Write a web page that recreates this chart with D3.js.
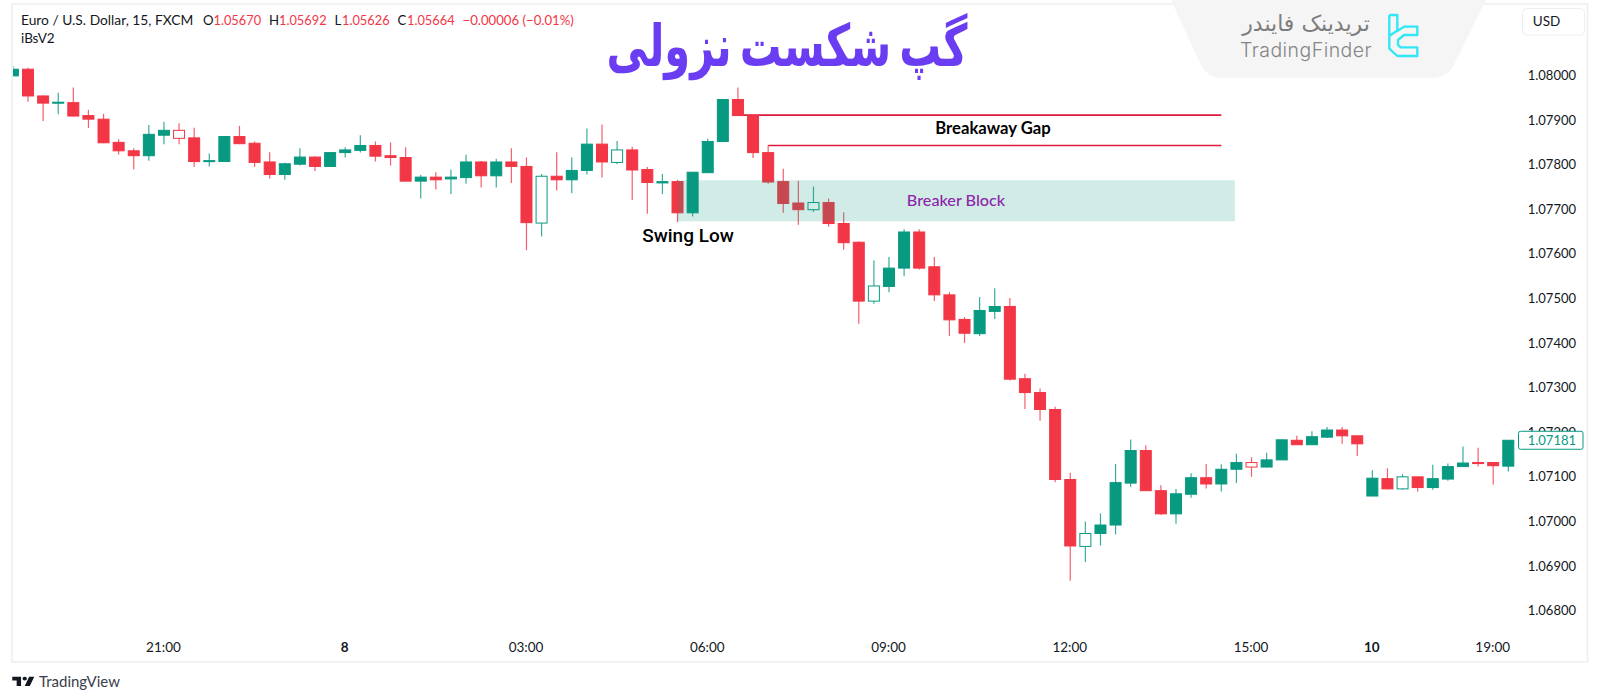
<!DOCTYPE html>
<html><head><meta charset="utf-8">
<script src="https://cdn.jsdelivr.net/npm/d3@7/dist/d3.min.js"></script>
<style>html,body{margin:0;padding:0;background:#fff}svg{display:block}
text{font-family:Lato,"Open Sans",sans-serif}</style></head><body>
<svg id="c" width="1600" height="700"></svg>
<script>
const opens=[1.07998,1.08013,1.07953,1.07937,1.07938,1.07909,1.07901,1.07849,1.07830,1.07819,1.07865,1.07876,1.07859,1.07806,1.07806,1.07862,1.07847,1.07805,1.07777,1.07800,1.07816,1.07795,1.07826,1.07831,1.07842,1.07819,1.07815,1.07762,1.07771,1.07767,1.07770,1.07805,1.07774,1.07805,1.07795,1.07668,1.07773,1.07765,1.07786,1.07845,1.07804,1.07832,1.07788,1.07758,1.07761,1.07691,1.07781,1.07851,1.07945,1.07909,1.07826,1.07761,1.07713,1.07698,1.07714,1.07667,1.07625,1.07493,1.07526,1.07567,1.07648,1.07570,1.07507,1.07452,1.07420,1.07470,1.07481,1.07319,1.07288,1.07250,1.07093,1.06943,1.06972,1.06991,1.07085,1.07158,1.07068,1.07016,1.07060,1.07097,1.07083,1.07116,1.07131,1.07121,1.07137,1.07181,1.07171,1.07188,1.07204,1.07191,1.07056,1.07095,1.07072,1.07099,1.07075,1.07094,1.07122,1.07131,1.07131,1.07123];
const highs=[1.08020,1.08016,1.07954,1.07960,1.07972,1.07922,1.07913,1.07856,1.07836,1.07888,1.07895,1.07892,1.07882,1.07824,1.07862,1.07886,1.07851,1.07827,1.07803,1.07836,1.07818,1.07826,1.07838,1.07865,1.07851,1.07849,1.07838,1.07776,1.07782,1.07788,1.07821,1.07807,1.07812,1.07836,1.07815,1.07778,1.07827,1.07815,1.07880,1.07889,1.07852,1.07839,1.07794,1.07778,1.07765,1.07782,1.07857,1.07945,1.07972,1.07909,1.07842,1.07790,1.07763,1.07750,1.07723,1.07692,1.07627,1.07584,1.07592,1.07654,1.07654,1.07592,1.07513,1.07457,1.07502,1.07522,1.07500,1.07330,1.07297,1.07256,1.07108,1.06999,1.07017,1.07128,1.07183,1.07170,1.07080,1.07072,1.07107,1.07128,1.07127,1.07151,1.07143,1.07153,1.07183,1.07191,1.07201,1.07211,1.07211,1.07191,1.07114,1.07118,1.07105,1.07099,1.07126,1.07129,1.07167,1.07164,1.07131,1.07181];
const lows=[1.07998,1.07940,1.07897,1.07912,1.07907,1.07881,1.07847,1.07822,1.07788,1.07808,1.07845,1.07845,1.07794,1.07795,1.07806,1.07845,1.07794,1.07768,1.07765,1.07797,1.07785,1.07795,1.07815,1.07826,1.07806,1.07797,1.07762,1.07723,1.07743,1.07733,1.07756,1.07748,1.07748,1.07758,1.07607,1.07638,1.07741,1.07735,1.07777,1.07770,1.07800,1.07720,1.07689,1.07733,1.07670,1.07683,1.07781,1.07851,1.07909,1.07814,1.07756,1.07691,1.07664,1.07693,1.07660,1.07608,1.07442,1.07487,1.07513,1.07549,1.07564,1.07493,1.07415,1.07399,1.07415,1.07453,1.07315,1.07251,1.07225,1.07087,1.06866,1.06908,1.06945,1.06970,1.07076,1.07068,1.07014,1.06994,1.07052,1.07073,1.07066,1.07085,1.07099,1.07120,1.07137,1.07171,1.07171,1.07186,1.07173,1.07146,1.07056,1.07071,1.07070,1.07066,1.07070,1.07090,1.07122,1.07122,1.07081,1.07111];
const closes=[1.08013,1.07953,1.07937,1.07939,1.07908,1.07901,1.07848,1.07830,1.07819,1.07867,1.07876,1.07858,1.07806,1.07808,1.07862,1.07846,1.07804,1.07777,1.07801,1.07816,1.07795,1.07826,1.07832,1.07842,1.07818,1.07815,1.07762,1.07771,1.07765,1.07771,1.07805,1.07774,1.07805,1.07795,1.07669,1.07773,1.07765,1.07786,1.07845,1.07805,1.07832,1.07787,1.07759,1.07761,1.07691,1.07782,1.07851,1.07945,1.07909,1.07826,1.07760,1.07712,1.07698,1.07714,1.07667,1.07624,1.07493,1.07527,1.07567,1.07648,1.07567,1.07507,1.07451,1.07421,1.07472,1.07481,1.07318,1.07288,1.07250,1.07093,1.06944,1.06972,1.06991,1.07086,1.07158,1.07068,1.07016,1.07061,1.07097,1.07083,1.07116,1.07131,1.07121,1.07137,1.07182,1.07171,1.07189,1.07204,1.07191,1.07173,1.07096,1.07072,1.07099,1.07075,1.07095,1.07122,1.07130,1.07129,1.07124,1.07181];
const hollowCandles=[12,36,41,54,58,72,83,93];
const priceTicks=[1.080,1.079,1.078,1.077,1.076,1.075,1.074,1.073,1.072,1.071,1.070,1.069,1.068];
const timeTickCandles=[11,23,35,47,59,71,83,91,99];
const timeTickLabels=["21:00","8","03:00","06:00","09:00","12:00","15:00","10","19:00"];
const boldTimeTicks=["8","10"];
const gapLevels=[{price:1.07910,from:49,to:81},{price:1.07842,from:51,to:81}];
const breaker={top:1.07764,bottom:1.07672,from:45,to:81.9};
const lastPrice=1.07181;
const legendTitle="Euro / U.S. Dollar, 15, FXCM";
const legendItems=[["O","1.05670"],["H","1.05692"],["L","1.05626"],["C","1.05664"]];
const legendChange="\u22120.00006 (\u22120.01%)";

const RED="#f23645",GREEN="#089981",INK="#131722";
const svg=d3.select("#c");
const x=d3.scaleLinear().domain([1,100]).range([12.9,1508.3]);
const y=d3.scaleLinear().domain([1.08,1.068]).range([75,610.2]);
const fmt=d3.format(".5f");

svg.append("defs").append("clipPath").attr("id","plot").append("rect")
  .attr("x",13).attr("y",4).attr("width",1574).attr("height",657);

// frame
svg.append("rect").attr("x",12).attr("y",4).attr("width",1575.5).attr("height",658)
  .attr("fill","none").attr("stroke","#efefef").attr("stroke-width",1.6);

// logo plate, over the frame's top edge
svg.append("path").attr("fill","#f5f5f5")
  .attr("d","M1171,0 L1200,63 Q1207,78 1222,78 L1432,78 Q1448,78 1455,63 L1486,0 Z");

const plot=svg.append("g").attr("clip-path","url(#plot)");

plot.selectAll(".gap").data(gapLevels).join("line").attr("class","gap")
  .attr("x1",d=>x(d.from)).attr("x2",d=>x(d.to))
  .attr("y1",d=>y(d.price)).attr("y2",d=>y(d.price))
  .attr("stroke","#dd1a3c").attr("stroke-width",1.6);

const idx=d3.range(opens.length);
const col=i=>closes[i]>=opens[i]?GREEN:RED;
const cg=plot.selectAll(".candle").data(idx).join("g").attr("class","candle");
cg.append("line")
  .attr("x1",i=>x(i+1)).attr("x2",i=>x(i+1))
  .attr("y1",i=>y(highs[i])).attr("y2",i=>y(lows[i]))
  .attr("stroke",col).attr("stroke-width",1.2).attr("stroke-opacity",.8);
cg.append("rect")
  .attr("x",i=>x(i+1)-5.5).attr("width",11)
  .attr("y",i=>y(Math.max(opens[i],closes[i])))
  .attr("height",i=>Math.max(1,Math.abs(y(opens[i])-y(closes[i]))))
  .attr("fill",i=>hollowCandles.includes(i+1)?"#fff":col(i))
  .attr("stroke",col).attr("stroke-width",1);

plot.append("rect")
  .attr("x",x(breaker.from)).attr("width",x(breaker.to)-x(breaker.from))
  .attr("y",y(breaker.top)).attr("height",y(breaker.bottom)-y(breaker.top))
  .attr("fill","#089981").attr("fill-opacity",.19);

// annotations
svg.append("text").text("Breaker Block").attr("x",956).attr("y",205.5)
  .attr("text-anchor","middle").attr("fill","#8e24aa").attr("font-size",16.2).attr("font-weight",500);
svg.append("text").text("Breakaway Gap").attr("x",993).attr("y",134)
  .attr("text-anchor","middle").attr("fill","#000").attr("font-size",16.7).attr("font-weight",700);
svg.append("text").text("Swing Low").attr("x",688).attr("y",241.5)
  .attr("text-anchor","middle").attr("fill","#000").attr("font-size",19).attr("font-weight",500)
  .style("font-family","Roboto");

// title
svg.append("text").text("گپ شکست نزولی")
  .attr("transform","translate(787,66) scale(0.8,1.12)")
  .attr("text-anchor","middle").attr("direction","rtl").attr("fill","#6a3cf2")
  .attr("font-size",52).attr("font-weight",700).attr("word-spacing",-8).style("font-family","'DejaVu Sans'");

// axes
const ya=svg.append("g").attr("transform","translate(1576,0)")
  .call(d3.axisLeft(y).tickValues(priceTicks).tickSize(0).tickPadding(0).tickFormat(fmt));
ya.select(".domain").remove();
ya.selectAll("text").attr("fill",INK).attr("font-size",13).attr("dy","0.35em");

const xa=svg.append("g").attr("transform","translate(-1,642.5)")
  .call(d3.axisBottom(x).tickValues(timeTickCandles).tickSize(0).tickPadding(0)
    .tickFormat((d,i)=>timeTickLabels[i]));
xa.select(".domain").remove();
xa.selectAll("text").attr("fill",INK).attr("font-size",13.5)
  .attr("font-weight",(d,i)=>boldTimeTicks.includes(timeTickLabels[i])?700:400);

// last price tag
const tagY=y(lastPrice);
svg.append("rect").attr("x",1518.5).attr("y",tagY-9).attr("width",64.5).attr("height",18).attr("rx",2)
  .attr("fill","#fff").attr("stroke",GREEN).attr("stroke-width",1);
svg.append("text").text(fmt(lastPrice)).attr("x",1576).attr("y",tagY).attr("dy","0.35em")
  .attr("text-anchor","end").attr("fill",GREEN).attr("font-size",13);

// USD button
svg.append("rect").attr("x",1522.5).attr("y",8.5).attr("width",62).attr("height",26.5).attr("rx",4)
  .attr("fill","#fff").attr("stroke","#eeeeee");
svg.append("text").text("USD").attr("x",1546.5).attr("y",26).attr("text-anchor","middle")
  .attr("fill",INK).attr("font-size",13.5);

// legend
svg.append("text").text(legendTitle).attr("x",21).attr("y",25).attr("fill",INK).attr("font-size",13.8);
svg.append("text").text("iBsV2").attr("x",21).attr("y",43).attr("fill",INK).attr("font-size",13.5);
const legendLetterX=[203,269,334.5,397.5], legendValueX=[213.5,279,342,407];
legendItems.forEach((d,i)=>{
  svg.append("text").text(d[0]).attr("x",legendLetterX[i]).attr("y",25).attr("fill",INK).attr("font-size",13.2);
  svg.append("text").text(d[1]).attr("x",legendValueX[i]).attr("y",25).attr("fill",RED).attr("font-size",12.8);
});
svg.append("text").text(legendChange).attr("x",462.5).attr("y",25).attr("fill",RED).attr("font-size",13.2);

// TradingFinder mark
svg.append("text").text("تریدینک فایندر").attr("x",1306).attr("y",31).attr("text-anchor","middle")
  .attr("direction","rtl").attr("fill","#7d7d7d").attr("font-size",22).style("font-family","'DejaVu Sans'");
svg.append("text").text("TradingFinder").attr("x",1306).attr("y",57).attr("text-anchor","middle")
  .attr("fill","#858585").attr("font-size",19.5).attr("font-weight",300).attr("letter-spacing",0.45).style("font-family","Inter");
svg.append("path").attr("transform","translate(1200,0) scale(0.3333)")
  .attr("d","M568,45 H592 V93 L612,80 H652 V105 H612 L594,120 V135 L602,142 H652 V168 H592 L568,146 V108 L590,93 M568,108 V45")
  .attr("fill","none").attr("stroke","#2fe7f7").attr("stroke-width",7).attr("stroke-linejoin","round");

// TradingView attribution
svg.append("path").attr("transform","translate(10.8,673) scale(0.733,0.62)").attr("fill","#131722")
  .attr("d","M14 6H2v6h6v9h6V6Zm12 15h-7l6-15h7l-6 15Zm-7-9a3 3 0 1 0 0-6 3 3 0 0 0 0 6Z");
svg.append("text").text("TradingView").attr("x",39).attr("y",686.5).attr("fill","#3a3e4a").attr("font-size",15);
</script></body></html>
